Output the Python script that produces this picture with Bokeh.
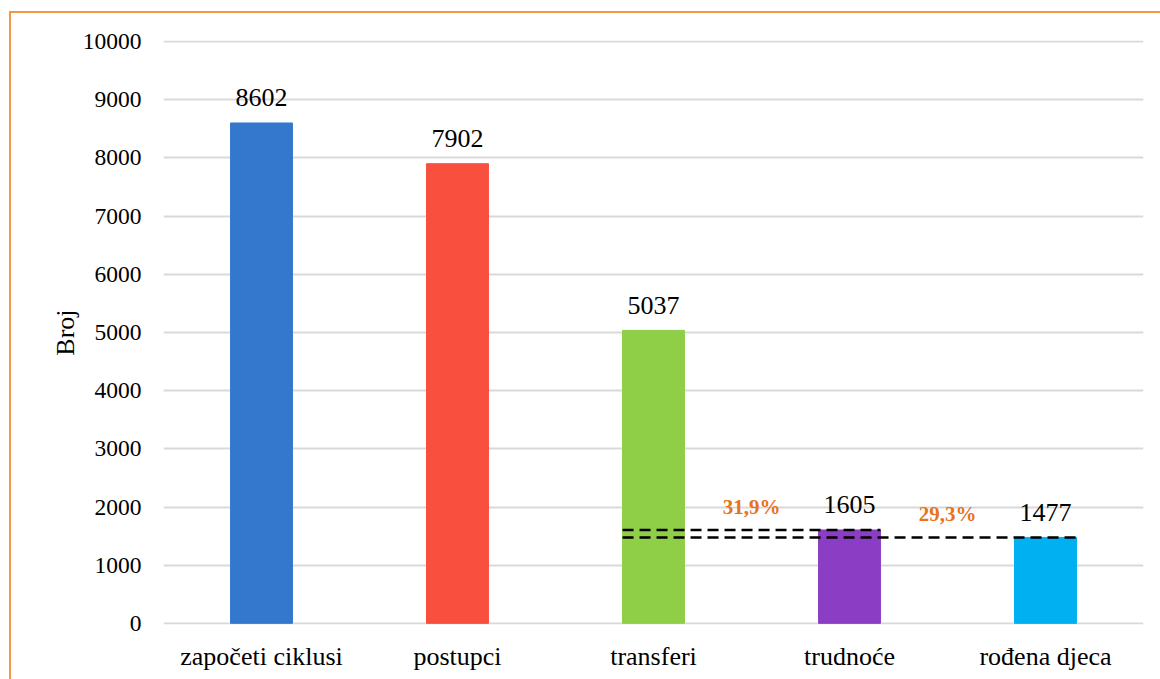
from bokeh.plotting import figure
from bokeh.models import ColumnDataSource, Range1d, FactorRange, SingleIntervalTicker
from bokeh.transform import dodge
from bokeh.core.properties import value
from bokeh.embed import file_html
from bokeh.resources import INLINE

categories = ["započeti ciklusi", "postupci", "transferi", "trudnoće", "rođena djeca"]
counts = [8602, 7902, 5037, 1605, 1477]
bar_colors = ["#3478CE", "#F94F3F", "#8ECF47", "#8B3EC3", "#00B0F0"]
count_labels = ["8602", "7902", "5037", "1605", "1477"]

rate_from = ["transferi", "transferi"]
rate_to = ["trudnoće", "rođena djeca"]
rate_values = [1605, 1477]
rate_labels = ["31,9%", "29,3%"]
rate_label_x = ["transferi", "trudnoće"]

FONT = "Liberation Serif"
BAR_W = 0.316
ORANGE = "#F79646"

p = figure(
    x_range=FactorRange(*categories, range_padding=0),
    y_range=Range1d(-20, 10020),
    width=1160, height=679,
    output_backend="svg", toolbar_location=None,
    min_border_left=163, min_border_right=17, min_border_top=40, min_border_bottom=55,
)
p.outline_line_color = None
p.background_fill_color = "white"
p.border_fill_alpha = 0
p.styles = {
    "background": (
        f"linear-gradient({ORANGE},{ORANGE}) 9px 11px / 1151px 2px no-repeat, "
        f"linear-gradient({ORANGE},{ORANGE}) 9px 11px / 2px 668px no-repeat, white"
    )
}

src = ColumnDataSource(dict(x=categories, top=counts, color=bar_colors, label=count_labels))
p.vbar(x="x", top="top", bottom=0, width=BAR_W, color="color", source=src)

p.text(x="x", y="top", text="label", source=src, text_align="center",
       text_baseline="alphabetic", y_offset=-25, text_font=value(FONT),
       text_font_size="26px", text_color="black")

seg = ColumnDataSource(dict(x0=rate_from, x1=rate_to, y=rate_values))
p.segment(x0=dodge("x0", -BAR_W / 2, range=p.x_range), y0="y",
          x1=dodge("x1", BAR_W / 2, range=p.x_range), y1="y",
          source=seg, line_color="black", line_width=2.5, line_dash="11 6")

lab = ColumnDataSource(dict(x=rate_label_x, y=rate_values, text=rate_labels))
p.text(x=dodge("x", 0.5, range=p.x_range), y="y", text="text", source=lab,
       text_align="center", text_baseline="alphabetic", y_offset=-23,
       text_font=value(FONT), text_font_size="21px", text_font_style="bold",
       text_color="#E7731C")

# axes
p.yaxis.ticker = SingleIntervalTicker(interval=1000)
p.yaxis.axis_line_color = None
p.yaxis.major_tick_line_color = None
p.yaxis.minor_tick_line_color = None
p.yaxis.major_tick_out = 0
p.yaxis.major_tick_in = 0
p.yaxis.major_label_standoff = 18
p.yaxis.major_label_text_font = FONT
p.yaxis.major_label_text_font_size = "23.5px"
p.yaxis.major_label_text_color = "black"
p.yaxis.axis_label = "Broj"
p.yaxis.axis_label_text_font = FONT
p.yaxis.axis_label_text_font_size = "26px"
p.yaxis.axis_label_text_font_style = "normal"
p.yaxis.axis_label_text_color = "black"
p.yaxis.axis_label_standoff = 0

p.xaxis.axis_line_color = None
p.xaxis.major_tick_line_color = None
p.xaxis.major_tick_out = 0
p.xaxis.major_tick_in = 0
p.xaxis.major_label_standoff = 17
p.xaxis.major_label_text_font = FONT
p.xaxis.major_label_text_font_size = "26px"
p.xaxis.major_label_text_color = "black"

p.xgrid.grid_line_color = None
p.ygrid.grid_line_color = "#D9D9D9"
p.ygrid.grid_line_width = 2

open("out.html", "w").write(file_html(p, INLINE))
